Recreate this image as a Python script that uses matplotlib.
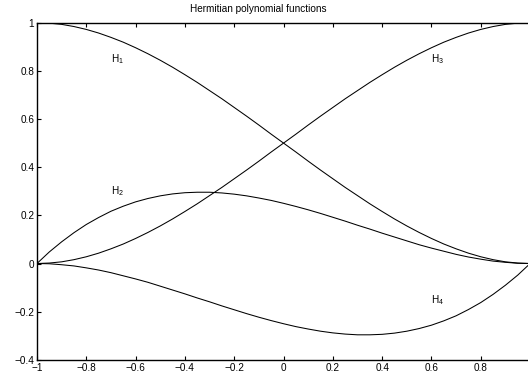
import matplotlib
matplotlib.use("Agg")
import matplotlib.pyplot as plt

# sample points, every 0.05 along x
x = [-1.0, -0.95, -0.9, -0.85, -0.8, -0.75, -0.7, -0.65, -0.6, -0.55, -0.5,
     -0.45, -0.4, -0.35, -0.3, -0.25, -0.2, -0.15, -0.1, -0.05, 0.0,
     0.05, 0.1, 0.15, 0.2, 0.25, 0.3, 0.35, 0.4, 0.45, 0.5,
     0.55, 0.6, 0.65, 0.7, 0.75, 0.8, 0.85, 0.9, 0.95, 1.0]
h1 = [1.0, 0.998, 0.993, 0.984, 0.972, 0.957, 0.939, 0.919, 0.896, 0.871, 0.844,
      0.815, 0.784, 0.752, 0.718, 0.684, 0.648, 0.612, 0.575, 0.537, 0.5,
      0.463, 0.425, 0.388, 0.352, 0.316, 0.282, 0.248, 0.216, 0.185, 0.156,
      0.129, 0.104, 0.081, 0.061, 0.043, 0.028, 0.016, 0.007, 0.002, 0.0]
h2 = [0.0, 0.048, 0.090, 0.128, 0.162, 0.191, 0.217, 0.238, 0.256, 0.270, 0.281,
      0.289, 0.294, 0.296, 0.296, 0.293, 0.288, 0.281, 0.272, 0.262, 0.25,
      0.237, 0.223, 0.208, 0.192, 0.176, 0.159, 0.143, 0.126, 0.110, 0.094,
      0.078, 0.064, 0.051, 0.038, 0.027, 0.018, 0.010, 0.005, 0.001, 0.0]
h3 = [0.0, 0.002, 0.007, 0.016, 0.028, 0.043, 0.061, 0.081, 0.104, 0.129, 0.156,
      0.185, 0.216, 0.248, 0.282, 0.316, 0.352, 0.388, 0.425, 0.463, 0.5,
      0.537, 0.575, 0.612, 0.648, 0.684, 0.718, 0.752, 0.784, 0.815, 0.844,
      0.871, 0.896, 0.919, 0.939, 0.957, 0.972, 0.984, 0.993, 0.998, 1.0]
h4 = [0.0, -0.001, -0.005, -0.010, -0.018, -0.027, -0.038, -0.051, -0.064, -0.078, -0.094,
      -0.110, -0.126, -0.143, -0.159, -0.176, -0.192, -0.208, -0.223, -0.237, -0.25,
      -0.262, -0.272, -0.281, -0.288, -0.293, -0.296, -0.296, -0.294, -0.289, -0.281,
      -0.270, -0.256, -0.238, -0.217, -0.191, -0.162, -0.128, -0.090, -0.048, 0.0]

labels = ["H$_1$", "H$_2$", "H$_3$", "H$_4$"]
label_x = [-0.7, -0.7, 0.6, 0.6]
label_y = [0.85, 0.3, 0.85, -0.15]

xticks = [-1, -0.8, -0.6, -0.4, -0.2, 0, 0.2, 0.4, 0.6, 0.8]
xticklabels = ["\u22121", "\u22120.8", "\u22120.6", "\u22120.4", "\u22120.2",
               "0", "0.2", "0.4", "0.6", "0.8"]
yticks = [-0.4, -0.2, 0, 0.2, 0.4, 0.6, 0.8, 1]
yticklabels = ["\u22120.4", "\u22120.2", "0", "0.2", "0.4", "0.6", "0.8", "1"]

plt.rcParams["font.family"] = ["Liberation Sans", "DejaVu Sans"]
plt.rcParams["mathtext.fontset"] = "custom"
plt.rcParams["mathtext.rm"] = "Liberation Sans"
plt.rcParams["mathtext.it"] = "Liberation Sans"

fig = plt.figure(figsize=(5.28, 3.78), dpi=100)
ax = fig.add_axes([0.070, 0.048, 0.934, 0.892])

for ys in (h1, h2, h3, h4):
    ax.plot(x, ys, color="black", linewidth=0.75)

for lx, ly, lab in zip(label_x, label_y, labels):
    ax.text(lx, ly, lab, fontsize=7.2, ha="left", va="center")

ax.set_xlim(-1, 1)
ax.set_ylim(-0.4, 1)
ax.set_xticks(xticks)
ax.set_xticklabels(xticklabels)
ax.set_yticks(yticks)
ax.set_yticklabels(yticklabels)
ax.tick_params(direction="in", length=3, width=0.8, labelsize=7.2,
               top=True, right=False, pad=2)
for s in ax.spines.values():
    s.set_linewidth(1.0)

ax.set_title("Hermitian polynomial functions", fontsize=7.2, pad=7.5, x=0.448)

fig.savefig("out.png", dpi=100)
